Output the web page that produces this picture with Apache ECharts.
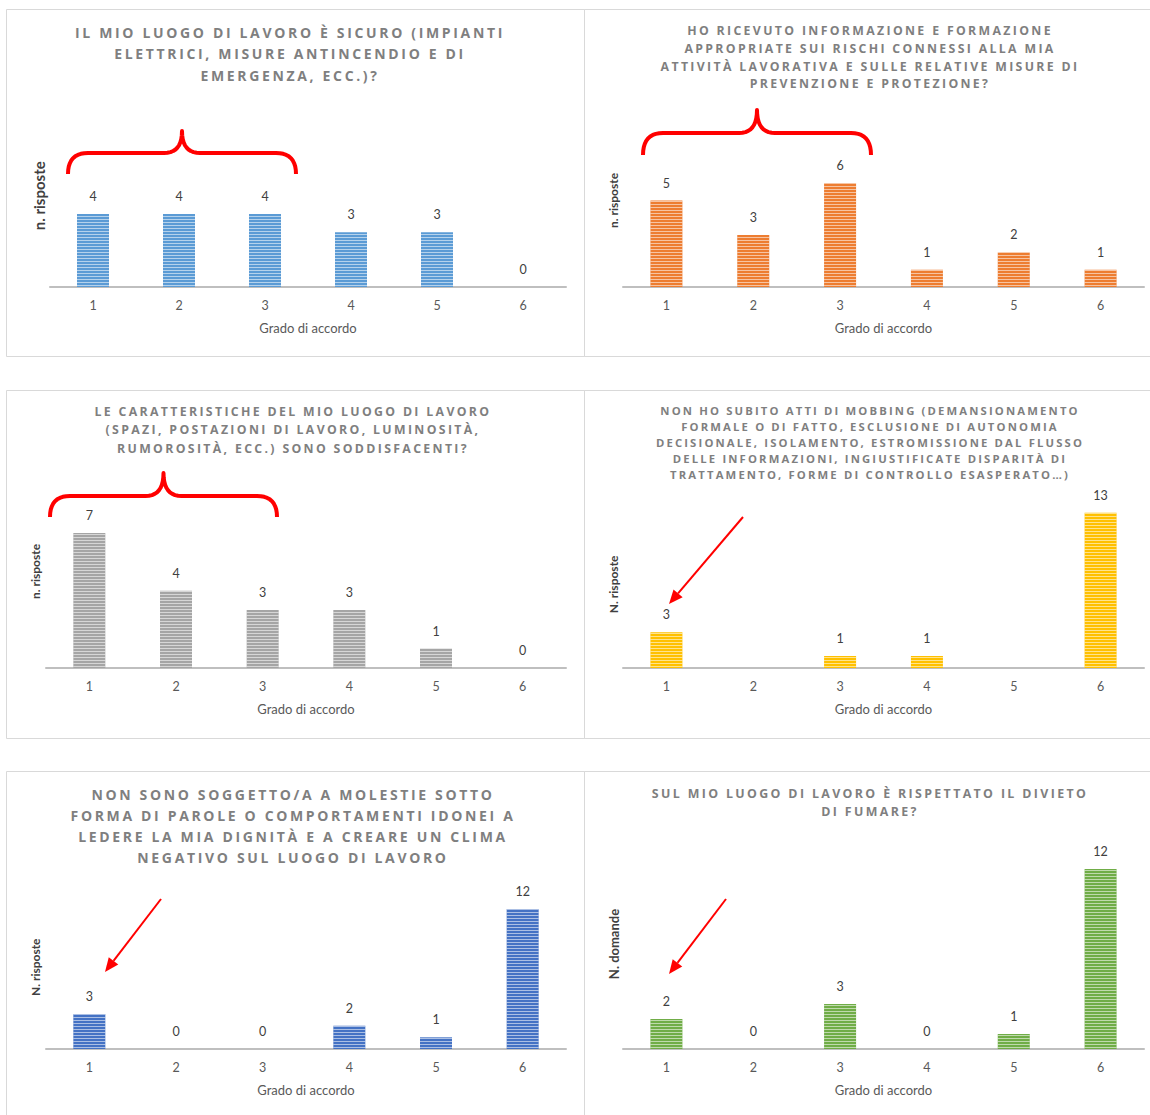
<!DOCTYPE html>
<html>
<head>
<meta charset="utf-8">
<script src="https://cdn.jsdelivr.net/npm/echarts@6/dist/echarts.min.js"></script>
<style>
	html, body { margin: 0; padding: 0; background: #fff; }
	#main { width: 1150px; height: 1115px; }
	/* i titoli dei grafici Office sono spaziati */
	#main text[style*="Open Sans"] { letter-spacing: 0.19em; }
</style>
</head>
<body>
<div id="main"></div>
<script>
	var categories = [ '1', '2', '3', '4', '5', '6' ];

	var titles = [
		'IL MIO LUOGO DI LAVORO È SICURO (IMPIANTI\nELETTRICI, MISURE ANTINCENDIO E DI\nEMERGENZA, ECC.)?',
		'HO RICEVUTO INFORMAZIONE E FORMAZIONE\nAPPROPRIATE SUI RISCHI CONNESSI ALLA MIA\nATTIVITÀ LAVORATIVA E SULLE RELATIVE MISURE DI\nPREVENZIONE E PROTEZIONE?',
		'LE CARATTERISTICHE DEL MIO LUOGO DI LAVORO\n(SPAZI, POSTAZIONI DI LAVORO, LUMINOSITÀ,\nRUMOROSITÀ, ECC.) SONO SODDISFACENTI?',
		'NON HO SUBITO ATTI DI MOBBING (DEMANSIONAMENTO\nFORMALE O DI FATTO, ESCLUSIONE DI AUTONOMIA\nDECISIONALE, ISOLAMENTO, ESTROMISSIONE DAL FLUSSO\nDELLE INFORMAZIONI, INGIUSTIFICATE DISPARITÀ DI\nTRATTAMENTO, FORME DI CONTROLLO ESASPERATO…)',
		'NON SONO SOGGETTO/A A MOLESTIE SOTTO\nFORMA DI PAROLE O COMPORTAMENTI IDONEI A\nLEDERE LA MIA DIGNITÀ E A CREARE UN CLIMA\nNEGATIVO SUL LUOGO DI LAVORO',
		'SUL MIO LUOGO DI LAVORO È RISPETTATO IL DIVIETO\nDI FUMARE?'
	];
	var xName = 'Grado di accordo';
	var yNames = [ 'n. risposte', 'n. risposte', 'n. risposte', 'N. risposte', 'N. risposte', 'N. domande' ];

	var sicurezza = [ 4, 4, 4, 3, 3, 0 ];
	var formazione = [ 5, 3, 6, 1, 2, 1 ];
	var caratteristiche = [ 7, 4, 3, 3, 1, 0 ];
	var mobbing = [ 3, null, 1, 1, null, 13 ];
	var molestie = [ 3, 0, 0, 2, 1, 12 ];
	var fumo = [ 2, 0, 3, 0, 1, 12 ];
	var values = [ sicurezza, formazione, caratteristiche, mobbing, molestie, fumo ];

	var colors = [ '#5b9bd5', '#ed7d31', '#a5a5a5', '#ffc000', '#4472c4', '#70ad47' ];

	// posizione dei sei riquadri (pixel)
	var panels = [
		{ left : 50, width : 516, top : 104.5, height : 182.5, max : 10, tx : 290, ty : 21.5, lh : 21.5, ts : 14, ys : 15, gap : 4 },
		{ left : 623, width : 521, top : 114, height : 173, max : 10, tx : 870, ty : 22, lh : 17.7, ts : 12.3, ys : 12, gap : 4 },
		{ left : 46, width : 520, top : 475, height : 193, max : 10, tx : 293, ty : 402, lh : 18.5, ts : 12.3, ys : 12, gap : 5 },
		{ left : 623, width : 521, top : 500.7, height : 167.3, max : 14, tx : 870, ty : 402, lh : 16, ts : 11.3, ys : 12, gap : 4 },
		{ left : 46, width : 520, top : 885.6, height : 163.4, max : 14, tx : 293, ty : 783.5, lh : 21, ts : 14, ys : 12, gap : 5 },
		{ left : 623, width : 521, top : 839, height : 210, max : 14, tx : 870, ty : 784, lh : 18, ts : 12.4, ys : 13, gap : 3 }
	];

	var red = '#ff0000';

	// punti di una curva quadratica
	function quad(points, p0, c, p1) {
		for (var k = 1; k <= 10; k++) {
			var t = k / 10;
			points.push([ (1 - t) * (1 - t) * p0[0] + 2 * (1 - t) * t * c[0] + t * t * p1[0], (1 - t) * (1 - t) * p0[1] + 2 * (1 - t) * t * c[1] + t * t * p1[1] ]);
		}
	}

	function brace(x1, x2, yEnd, yLine, yPeak) {
		var mid = (x1 + x2) / 2;
		var r = 20;
		var pts = [ [ x1, yEnd ] ];
		quad(pts, [ x1, yEnd ], [ x1, yLine ], [ x1 + r, yLine ]);
		pts.push([ mid - 18, yLine ]);
		quad(pts, [ mid - 18, yLine ], [ mid, yLine ], [ mid, yPeak ]);
		quad(pts, [ mid, yPeak ], [ mid, yLine ], [ mid + 18, yLine ]);
		pts.push([ x2 - r, yLine ]);
		quad(pts, [ x2 - r, yLine ], [ x2, yLine ], [ x2, yEnd ]);
		return {
			type : 'polyline',
			shape : { points : pts },
			style : { fill : null, stroke : red, lineWidth : 4, lineJoin : 'round' }
		};
	}

	function arrow(x1, y1, x2, y2) {
		var a = Math.atan2(y2 - y1, x2 - x1);
		var len = 14, half = 6;
		var bx = x2 - len * Math.cos(a), by = y2 - len * Math.sin(a);
		return [ {
			type : 'line',
			shape : { x1 : x1, y1 : y1, x2 : bx, y2 : by },
			style : { stroke : red, lineWidth : 2 }
		}, {
			type : 'polygon',
			shape : {
				points : [ [ x2, y2 ], [ bx + half * Math.sin(a), by - half * Math.cos(a) ], [ bx - half * Math.sin(a), by + half * Math.cos(a) ] ]
			},
			style : { fill : red }
		} ];
	}

	function border(x, y, w, h) {
		return {
			type : 'rect',
			shape : { x : x, y : y, width : w, height : h },
			style : { fill : null, stroke : '#d9d9d9', lineWidth : 1 }
		};
	}

	var option = {
		backgroundColor : '#fff',
		animation : false,
		title : [],
		grid : [],
		xAxis : [],
		yAxis : [],
		series : [],
		graphic : []
	};

	panels.forEach(function(p, i) {
		option.title.push({
			text : titles[i],
			left : p.tx,
			top : p.ty,
			textAlign : 'center',
			padding : 0,
			textStyle : {
				fontFamily : 'Open Sans',
				fontWeight : 'bold',
				fontSize : p.ts,
				lineHeight : p.lh,
				color : '#7f7f7f'
			}
		});
		option.grid.push({
			left : p.left,
			top : p.top,
			width : p.width,
			height : p.height
		});
		option.xAxis.push({
			type : 'category',
			gridIndex : i,
			data : categories,
			axisLine : {
				lineStyle : { color : '#bfbfbf', width : 2 }
			},
			axisTick : { show : false },
			axisLabel : {
				color : '#595959',
				fontFamily : 'Lato',
				fontSize : 12.5,
				margin : 12
			},
			name : xName,
			nameLocation : 'middle',
			nameGap : 34,
			nameTextStyle : {
				color : '#595959',
				fontFamily : 'Lato',
				fontSize : 13
			}
		});
		option.yAxis.push({
			type : 'value',
			gridIndex : i,
			min : 0,
			max : p.max,
			axisLine : { show : false },
			axisTick : { show : false },
			axisLabel : { show : false },
			splitLine : { show : false },
			name : yNames[i],
			nameLocation : 'middle',
			nameRotate : 90,
			nameGap : p.gap,
			nameTextStyle : {
				color : '#404040',
				fontFamily : 'Lato',
				fontWeight : 'bold',
				fontSize : p.ys
			}
		});
		option.series.push({
			type : 'bar',
			xAxisIndex : i,
			yAxisIndex : i,
			data : values[i],
			barWidth : 32,
			silent : true,
			itemStyle : {
				color : colors[i],
				decal : {
					symbol : 'rect',
					symbolSize : 1,
					dashArrayX : [ 1, 0 ],
					dashArrayY : [ 1, 2 ],
					rotation : 0,
					color : 'rgba(255,255,255,0.55)'
				}
			},
			label : {
				show : true,
				position : 'top',
				distance : 11,
				color : '#404040',
				fontFamily : 'Lato',
				fontSize : 12.5
			}
		});
	});

	option.graphic = [
		border(6.5, 9.5, 578, 347),
		border(584.5, 9.5, 570, 347),
		border(6.5, 390.5, 578, 348),
		border(584.5, 390.5, 570, 348),
		border(6.5, 771.5, 578, 350),
		border(584.5, 771.5, 570, 350),
		brace(68, 296, 174, 153, 131),
		brace(643, 871, 155, 133, 110),
		brace(50, 277, 517, 496, 473)
	].concat(arrow(743, 517, 669, 604), arrow(161, 899, 105, 972), arrow(726, 899, 669, 974));

	var chart = echarts.init(document.getElementById('main'), null, { renderer : 'svg' });
	chart.setOption(option);
</script>
</body>
</html>
